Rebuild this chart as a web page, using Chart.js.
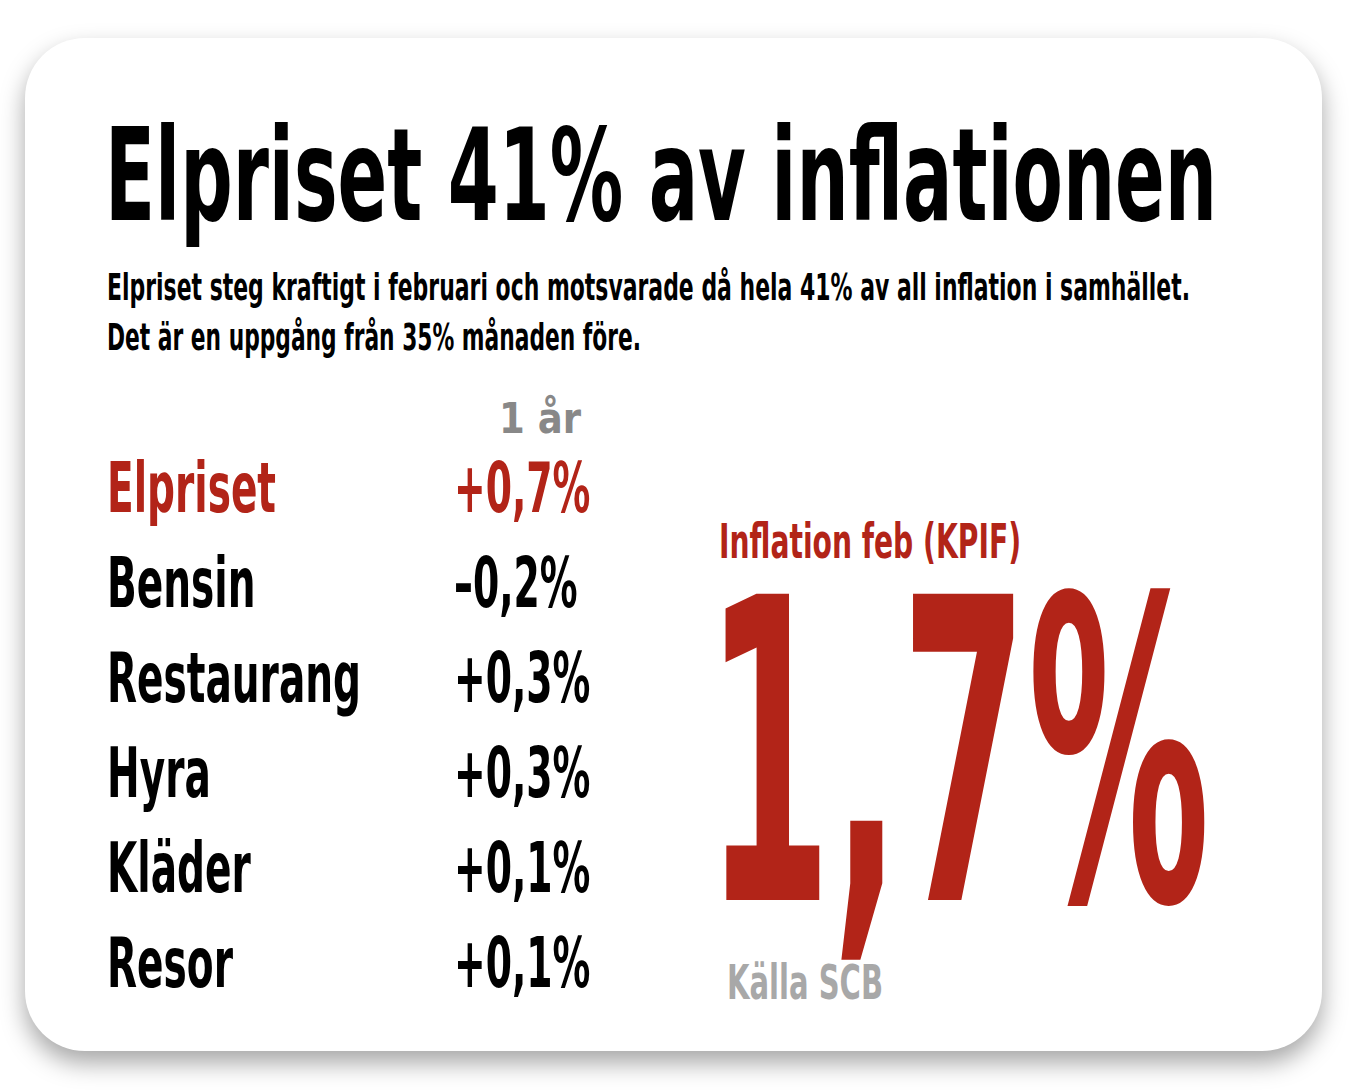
<!DOCTYPE html>
<html><head><meta charset="utf-8">
<script src="https://cdn.jsdelivr.net/npm/chart.js@4/dist/chart.umd.min.js"></script>
<style>
html,body{margin:0;padding:0;background:#fff;width:1364px;height:1090px;overflow:hidden}
#card{position:absolute;left:25px;top:38px;width:1297px;height:1013px;background:#fff;border-radius:60px;box-shadow:0 12px 25px rgba(0,0,0,0.35)}
.t{position:absolute;font-family:"Liberation Sans Narrow","DejaVu Sans Condensed",sans-serif;font-weight:bold;white-space:nowrap;transform-origin:0 0;line-height:1}
#chartbox{position:absolute;left:100px;top:442px;width:560px;height:570px}
</style></head><body>
<div id="card"></div>
<div class="t" id="title" data-w="1112" style="left:105px;top:112px;font-size:128px;color:#000">Elpriset 41% av inflationen</div>
<div class="t" id="s1" data-w="1083" style="left:107px;top:268px;font-size:38px;color:#000">Elpriset steg kraftigt i februari och motsvarade då hela 41% av all inflation i samhället.</div>
<div class="t" id="s2" data-w="534" style="left:107px;top:318px;font-size:38px;color:#000">Det är en uppgång från 35% månaden före.</div>
<div class="t" data-w="82" style="left:499px;top:398px;font-size:42px;color:#888;font-family:'DejaVu Sans',sans-serif">1 år</div>
<div class="t" id="kp" data-w="302" style="left:719px;top:517px;font-size:48px;color:#b22418">Inflation feb (KPIF)</div>
<div class="t" id="big" data-w="505" style="left:705px;top:545px;font-size:420px;color:#b22418">1,7%</div>
<div class="t" id="src" data-w="156" style="left:727px;top:958px;font-size:48px;color:#a8a8a8">Källa SCB</div>
<div id="chartbox"><canvas id="c"></canvas></div>
<script>
const categories=["Elpriset","Bensin","Restaurang","Hyra","Kläder","Resor"];
const values=[0.7,-0.2,0.3,0.3,0.1,0.1];
const labelColors=["#b22418","#000","#000","#000","#000","#000"];
document.querySelectorAll('.t[data-w]').forEach(el=>{const w=el.getBoundingClientRect().width;el.style.transform='scaleX('+(el.dataset.w/w)+')';});
const fmt=v=>(v<0?'–':'+')+Math.abs(v).toFixed(1).replace('.',',')+'%';
const FONT='"DejaVu Sans Condensed","DejaVu Sans",sans-serif';
const textPlugin={id:'rows',afterDraw(ch){const ctx=ch.ctx,y=ch.scales.y;ctx.save();ctx.font='bold 70px '+FONT;ctx.textBaseline='middle';ctx.textAlign='left';
categories.forEach((c,i)=>{const py=y.getPixelForValue(i)+4;ctx.fillStyle=labelColors[i];
ctx.save();ctx.translate(7,py);ctx.scale(0.62,1);ctx.fillText(c,0,0);ctx.restore();
ctx.save();ctx.translate(354,py);ctx.scale(0.6,1);ctx.fillText(fmt(values[i]),0,0);ctx.restore();});
ctx.restore();}};
new Chart(document.getElementById('c'),{type:'bar',data:{labels:categories,datasets:[{data:values,backgroundColor:'rgba(0,0,0,0)'}]},
options:{indexAxis:'y',responsive:true,maintainAspectRatio:false,animation:false,layout:{padding:0},
plugins:{legend:{display:false},tooltip:{enabled:false}},
scales:{x:{display:false,min:-1,max:1},y:{display:false}}},
plugins:[textPlugin]});
</script>
</body></html>
